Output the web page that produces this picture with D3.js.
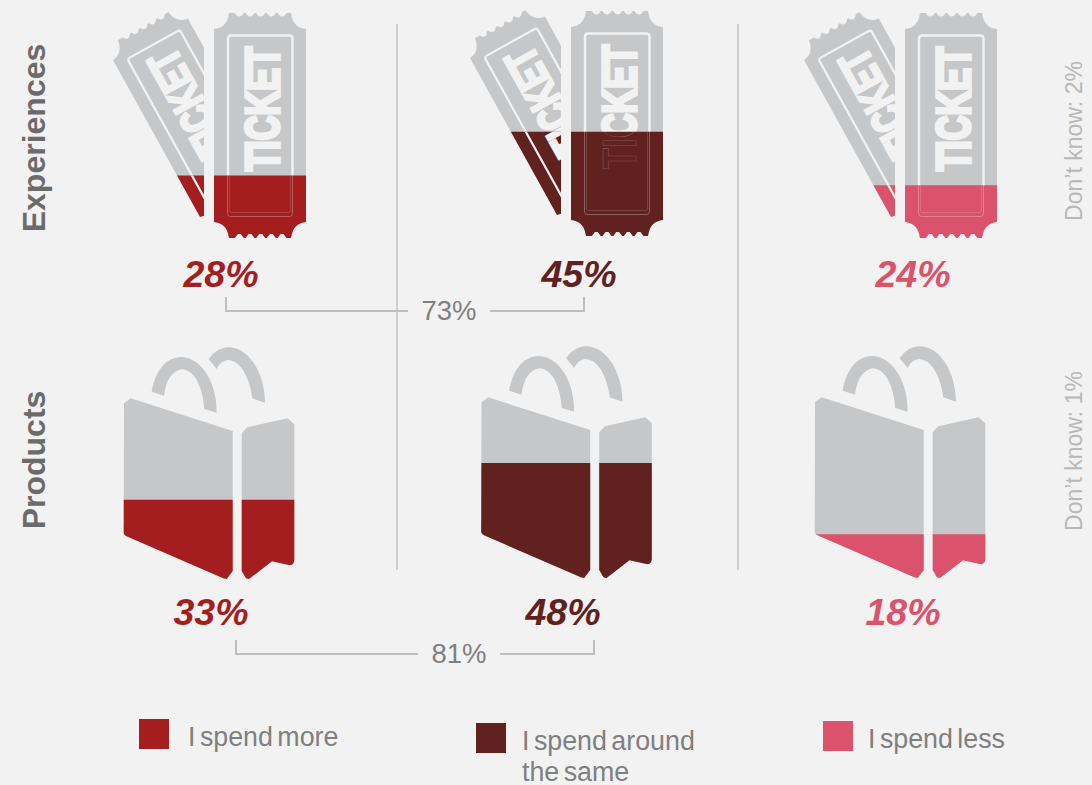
<!DOCTYPE html>
<html>
<head>
<meta charset="utf-8">
<style>
  html, body { margin: 0; padding: 0; background: #f2f2f2; }
  svg { display: block; }
  text { font-family: "Liberation Sans", Arial, sans-serif; }
</style>
<script src="https://cdnjs.cloudflare.com/ajax/libs/d3/7.8.5/d3.min.js"></script>
</head>
<body>
<div id="chart"></div>
<script>
// Survey shares, in percent, by response
const responses = ["I spend more", "I spend around the same", "I spend less"];
const experienceShares = [28, 45, 24];
const productShares = [33, 48, 18];
const rowLabels = ["Experiences", "Products"];
const unknownLabels = ["Don’t know: 2%", "Don’t know: 1%"];

// Page layout
const width = 1092, height = 785;
const BG = "#f2f2f2", ICON = "#c6c7c8", RULE = "#bfbfbf", SOFT = "#7f7f7f";
const responseColor = d3.scaleOrdinal().domain(responses).range(["#a41e1f", "#61211f", "#da526b"]);

const ticketOrigins = [[214, 13], [571, 11], [905, 13]];
const bagOrigins = [[124, 347], [481.5, 346], [815, 346]];
const ticketLabelX = [221, 579, 913];
const bagLabelX = [211, 563, 903];

const TICKET_W = 92, TICKET_H = 225, BAG_H = 232;
// Fill levels run slightly past the icon's top so the share reads against its body
const ticketLevel = d3.scaleLinear().domain([0, 100]).range([231, -14]);
const bagLevel = d3.scaleLinear().domain([0, 100]).range([231, -6.5]);

const svg = d3.select("#chart").append("svg")
  .attr("width", width).attr("height", height)
  .style("background", BG);
const defs = svg.append("defs");

// Ticket outline: concave shoulders and a row of small scallops top and bottom
function ticketPath() {
  const p = d3.path(), w = TICKET_W, h = TICKET_H, s = 16;
  const notches = [25.3, 36, 46.7, 57.3, 68];
  p.moveTo(0, s);
  p.quadraticCurveTo(13, 15, s - 1, 0);
  notches.forEach(c => {
    p.lineTo(c - 4.5, 0);
    p.quadraticCurveTo(c - 2.5, 3.5, c, 3.5);
    p.quadraticCurveTo(c + 2.5, 3.5, c + 4.5, 0);
  });
  p.lineTo(w - s + 1, 0);
  p.quadraticCurveTo(w - 13, 15, w, s);
  p.lineTo(w, h - s);
  p.quadraticCurveTo(w - 13, h - 15, w - s + 1, h);
  [...notches].reverse().forEach(c => {
    p.lineTo(c + 4.5, h);
    p.lineTo(c + 1.5, h - 4);
    p.lineTo(c - 1.5, h - 4);
    p.lineTo(c - 4.5, h);
  });
  p.lineTo(s - 1, h);
  p.quadraticCurveTo(13, h - 15, 0, h - s);
  p.closePath();
  return p.toString();
}

function ticketWord(g) {
  return g.append("text")
    .attr("transform", "translate(64.6,157.9) rotate(-90)")
    .attr("textLength", 124.1)
    .attr("lengthAdjust", "spacingAndGlyphs")
    .attr("font-size", 48)
    .attr("font-weight", 700)
    .text("TICKET");
}

// Solid body with the frame and wordmark knocked out in the background colour
function ticketFace(g, color) {
  g.append("path").attr("d", ticketPath()).attr("fill", color);
  g.append("rect")
    .attr("x", 14).attr("y", 22.5).attr("width", 64.5).attr("height", 181).attr("rx", 3)
    .attr("fill", "none").attr("stroke", BG).attr("stroke-width", 2.4);
  ticketWord(g).attr("fill", BG).attr("stroke", BG).attr("stroke-width", 3.6);
}

// Front ticket once filled: only hairline traces of the frame and wordmark remain
function ticketFilled(g, color) {
  g.append("path").attr("d", ticketPath()).attr("fill", color);
  g.append("rect")
    .attr("x", 13.5).attr("y", 22.5).attr("width", 65).attr("height", 181).attr("rx", 3)
    .attr("fill", "none").attr("stroke", "#fff").attr("stroke-opacity", 0.28).attr("stroke-width", 1);
  g.append("rect")
    .attr("x", 15.5).attr("y", 22.5).attr("width", 61).attr("height", 177).attr("rx", 2)
    .attr("fill", "none").attr("stroke", "#fff").attr("stroke-opacity", 0.2).attr("stroke-width", 0.8);
  ticketWord(g).attr("fill", "none").attr("stroke", "#fff")
    .attr("stroke-opacity", 0.22).attr("stroke-width", 0.7);
}

const TILT = "translate(-101,47) rotate(-29) scale(0.93) translate(0,-16)";

function drawTicket(value, i) {
  const [ox, oy] = ticketOrigins[i];
  const color = responseColor(responses[i]);
  const g = svg.append("g").attr("transform", `translate(${ox},${oy})`);
  const level = ticketLevel(value);

  defs.append("clipPath").attr("id", `ticket-level-${i}`)
    .append("rect").attr("x", -130).attr("y", level).attr("width", 240).attr("height", TICKET_H - level + 10);
  defs.append("clipPath").attr("id", `ticket-back-${i}`)
    .append("rect").attr("x", -130).attr("y", -20).attr("width", 120).attr("height", TICKET_H + 40);

  const back = g.append("g").attr("clip-path", `url(#ticket-back-${i})`);
  ticketFace(back.append("g").attr("transform", TILT), ICON);
  const backFill = back.append("g").attr("clip-path", `url(#ticket-level-${i})`);
  ticketFace(backFill.append("g").attr("transform", TILT), color);

  ticketFace(g.append("g"), ICON);
  ticketFilled(g.append("g").attr("clip-path", `url(#ticket-level-${i})`), color);
}

// Shopping bag: two panels and two handles, in coordinates from the bag's top-left
const bagPanels = [
  "M0,56.3 L6.7,51.3 L108.7,84 L108.7,224 L102.7,232 L99.3,231.3 L2,189 Q0,188 -0.3,186 Z",
  "M117.7,86.3 L123.3,80.3 L163.7,71.3 L170.3,77.3 L170.3,213 Q170,218 166,218.3 L148,214.3 L125,232 L122,231.3 L117.7,224 Z"
];
const bagHandles = [
  "M27.7,44.7 C31,25 41,10 58,10 C76,11 93,33 92.7,65.7 L80.3,62 C79,43 72,23 57.7,22.3 C48,24 42,33 40,48.7 Z",
  "M84.7,12.3 C90,4 98,0 105.3,0.3 C126,1 141,28 141,55.7 L128.3,51.3 C126,33 118,14 104.3,13 C99,13.5 95,17 92.7,22 Z"
];

function drawBag(value, i) {
  const [ox, oy] = bagOrigins[i];
  const color = responseColor(responses[i]);
  const g = svg.append("g").attr("transform", `translate(${ox},${oy})`);
  const level = bagLevel(value);

  defs.append("clipPath").attr("id", `bag-level-${i}`)
    .append("rect").attr("x", -10).attr("y", level).attr("width", 200).attr("height", BAG_H - level + 10);

  g.selectAll("path.handle").data(bagHandles).join("path")
    .attr("class", "handle").attr("d", d => d).attr("fill", ICON);
  g.selectAll("path.panel").data(bagPanels).join("path")
    .attr("class", "panel").attr("d", d => d).attr("fill", ICON);
  g.append("g").attr("clip-path", `url(#bag-level-${i})`)
    .selectAll("path").data(bagPanels).join("path")
    .attr("d", d => d).attr("fill", color);
}

experienceShares.forEach(drawTicket);
productShares.forEach(drawBag);

// Column dividers
svg.selectAll("line.divider").data([397, 738]).join("line")
  .attr("class", "divider")
  .attr("x1", d => d).attr("x2", d => d).attr("y1", 24).attr("y2", 570)
  .attr("stroke", RULE).attr("stroke-width", 1.4);

// Value labels
function shareLabels(values, xs, baseline) {
  svg.append("g").selectAll("text").data(values).join("text")
    .attr("x", (d, i) => xs[i]).attr("y", baseline)
    .attr("text-anchor", "middle")
    .attr("font-size", 37.5).attr("font-weight", 700).attr("font-style", "italic")
    .attr("fill", (d, i) => responseColor(responses[i]))
    .text(d => `${d}%`);
}
shareLabels(experienceShares, ticketLabelX, 287);
shareLabels(productShares, bagLabelX, 625);

// Bracket joining the first two columns, labelled with their combined share
function bracket(values, x0, x1, top, y) {
  const mid = (x0 + x1) / 2 + 44;
  const gap = 41;
  const line = d3.line();
  [[[x0, top], [x0, y], [mid - gap, y]], [[mid + gap, y], [x1, y], [x1, top]]].forEach(pts => {
    svg.append("path").attr("d", line(pts))
      .attr("fill", "none").attr("stroke", RULE).attr("stroke-width", 2);
  });
  svg.append("text")
    .attr("x", mid).attr("y", y + 9)
    .attr("text-anchor", "middle").attr("font-size", 27.5).attr("fill", SOFT)
    .text(`${d3.sum(values.slice(0, 2))}%`);
}
bracket(experienceShares, 226, 584, 297, 311);
bracket(productShares, 236, 594, 640, 654);

// Row titles
const rowCentres = [138, 460];
svg.selectAll("text.row").data(rowLabels).join("text")
  .attr("class", "row")
  .attr("transform", (d, i) => `translate(45,${rowCentres[i]}) rotate(-90)`)
  .attr("text-anchor", "middle")
  .attr("font-size", 32).attr("font-weight", 700).attr("fill", "#6b6b6b")
  .text(d => d);

const unknownCentres = [141, 451];
svg.selectAll("text.unknown").data(unknownLabels).join("text")
  .attr("class", "unknown")
  .attr("transform", (d, i) => `translate(1082,${unknownCentres[i]}) rotate(-90)`)
  .attr("text-anchor", "middle")
  .attr("font-size", 23).attr("fill", "#b8b8b8")
  .text(d => d);

// Legend
const legendSwatches = [[139, 719], [476, 723], [823, 721]];
const legendText = [
  { x: 188, y: 746, lines: ["I spend more"] },
  { x: 522, y: 750, lines: ["I spend around", "the same"] },
  { x: 868, y: 748, lines: ["I spend less"] }
];
responses.forEach((r, i) => {
  svg.append("rect")
    .attr("x", legendSwatches[i][0]).attr("y", legendSwatches[i][1])
    .attr("width", 30).attr("height", 30)
    .attr("fill", responseColor(r));
  const t = legendText[i];
  t.lines.forEach((line, j) => {
    svg.append("text")
      .attr("x", t.x).attr("y", t.y + j * 31)
      .attr("font-size", 26.8).attr("word-spacing", -3).attr("fill", SOFT)
      .text(line);
  });
});
</script>
</body>
</html>
